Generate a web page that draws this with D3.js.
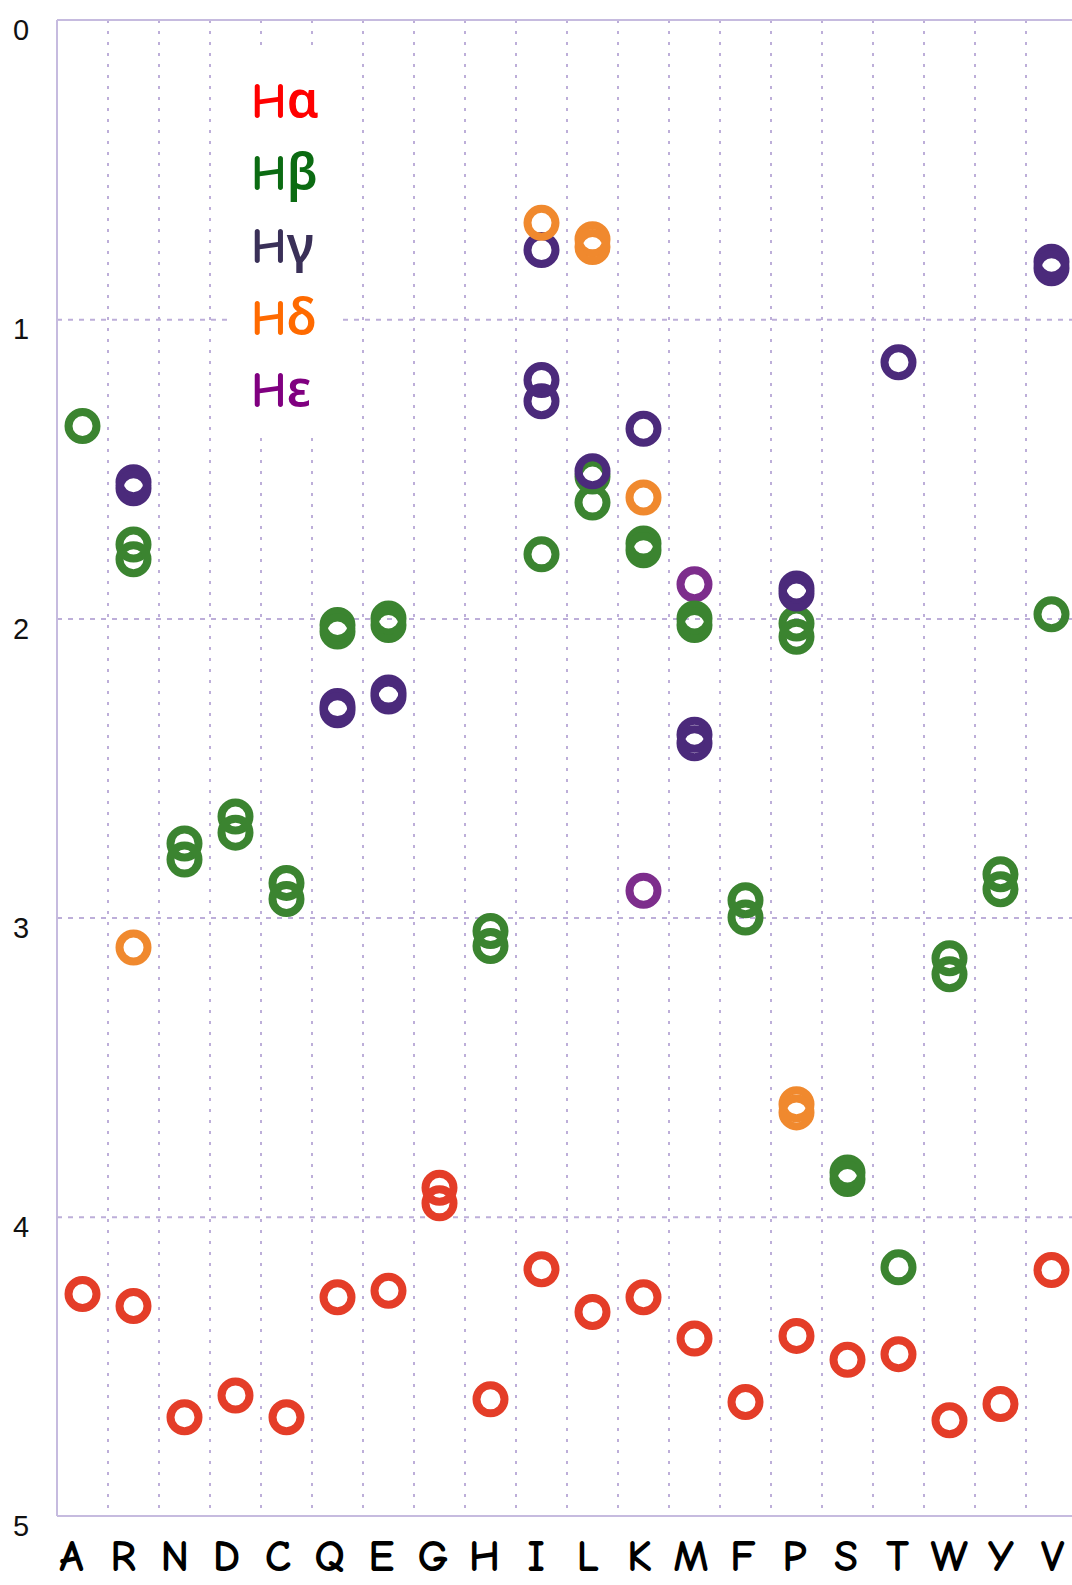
<!DOCTYPE html>
<html>
<head>
<meta charset="utf-8">
<script src="https://cdn.jsdelivr.net/npm/d3@7"></script>
<style>
  body { margin: 0; background: #fff; }
</style>
</head>
<body>
<div id="chart"></div>
<script>
// residues along x, one list of shifts (ppm) per residue for each proton type
const residues = ["A","R","N","D","C","Q","E","G","H","I","L","K","M","F","P","S","T","W","Y","V"];

const hAlpha = [[4.258],[4.298],[4.67],[4.597],[4.67],[4.269],[4.247],[3.903,3.955],[4.61],[4.175],
                [4.318],[4.269],[4.407],[4.619],[4.398],[4.478],[4.459],[4.68],[4.626],[4.178]];

const hBeta = [[1.357],[1.753,1.802],[2.752,2.806],[2.662,2.716],[2.884,2.938],[2.022,2.044],[2.0,2.022],[],
               [3.045,3.095],[1.786],[1.526,1.613],[1.75,1.772],[2.0,2.022],[2.942,3.0],[2.017,2.061],
               [3.852,3.874],[4.169],[3.136,3.189],[2.855,2.905],[1.986]];

const hGamma = [[],[1.545,1.565],[],[],[],[2.293,2.307],[2.248,2.261],[],[],[0.769,1.203,1.274],
                [1.508],[1.366],[2.389,2.417],[],[1.9,1.917],[],[1.144],[],[],[0.808,0.83]];

const hDelta = [[],[3.10],[],[],[],[],[],[],[],[0.678],[0.733,0.759],[1.596],[],[],[3.624,3.651],[],[],[],[],[]];

const hEpsilon = [[],[],[],[],[],[],[],[],[],[],[],[2.91],[1.886],[],[],[],[],[],[],[]];

const legendLabels = ["Hα","Hβ","Hγ","Hδ","Hε"];
const yTicks = [0, 1, 2, 3, 4, 5];

document.addEventListener("DOMContentLoaded", function() {
    const width = 1072, height = 1585;
    const left = 57, top = 20, bottom = 1516, bandW = 51;
    const gridColor = "#bdaed9";
    const handFont = "'Comic Sans MS', 'Comic Neue', 'Noto Sans', sans-serif";

    const svg = d3.select("#chart").append("svg")
        .attr("width", width)
        .attr("height", height);

    const x = d3.scaleBand()
        .domain(residues)
        .range([left, left + bandW * residues.length]);

    const y = d3.scaleLinear()
        .domain([0, 5])
        .range([top, bottom]);

    // the letters under the plot are spaced a little differently from the columns
    const xLabel = d3.scalePoint()
        .domain(residues)
        .range([71, 1052]);

    // vertical dotted grid between residues
    svg.selectAll("line.vgrid")
        .data(residues.slice(1))
        .enter()
        .append("line")
        .attr("class", "vgrid")
        .attr("x1", d => x(d))
        .attr("x2", d => x(d))
        .attr("y1", top)
        .attr("y2", bottom)
        .attr("stroke", gridColor)
        .attr("stroke-width", 2)
        .attr("stroke-dasharray", "3,8");

    // horizontal dashed grid
    const yGrid = svg.append("g")
        .attr("transform", `translate(${left},0)`)
        .call(d3.axisLeft(y).tickValues([1, 2, 3, 4]).tickSize(-(width - left)).tickFormat(""));
    yGrid.select(".domain").remove();
    yGrid.selectAll("line")
        .attr("stroke", gridColor)
        .attr("stroke-width", 2)
        .attr("stroke-dasharray", "5,6");

    // frame: left, top, bottom
    svg.append("line")
        .attr("x1", left).attr("x2", left)
        .attr("y1", top).attr("y2", bottom)
        .attr("stroke", "#c6bbdf").attr("stroke-width", 2);
    svg.append("line")
        .attr("x1", left).attr("x2", width)
        .attr("y1", top).attr("y2", top)
        .attr("stroke", "#c6bbdf").attr("stroke-width", 2);
    svg.append("line")
        .attr("x1", left).attr("x2", width)
        .attr("y1", bottom).attr("y2", bottom)
        .attr("stroke", "#c6bbdf").attr("stroke-width", 2);

    // y tick labels
    const yAxis = svg.append("g")
        .attr("transform", "translate(21,0)")
        .call(d3.axisLeft(y).tickValues(yTicks).tickSize(0).tickFormat(d3.format("d")));
    yAxis.select(".domain").remove();
    yAxis.selectAll("text")
        .attr("x", 0)
        .attr("dy", "0.68em")
        .attr("text-anchor", "middle")
        .attr("fill", "#111")
        .style("font-family", "'Liberation Sans', Arial, sans-serif")
        .style("font-size", "29px");

    // x letters
    const xAxis = svg.append("g")
        .attr("transform", "translate(0,1571)")
        .call(d3.axisBottom(xLabel).tickSize(0));
    xAxis.select(".domain").remove();
    xAxis.selectAll("text")
        .attr("y", 0)
        .attr("dy", 0)
        .attr("fill", "#000")
        .style("font-family", handFont)
        .style("font-weight", "bold")
        .style("font-size", "44px");

    // legend box (white, hides the grid)
    svg.append("rect")
        .attr("x", 227).attr("y", 53)
        .attr("width", 110).attr("height", 384)
        .attr("fill", "#fff");

    const legendColors = ["#ff0000", "#0b6b12", "#3a3058", "#ff6a00", "#800080"];
    svg.selectAll("text.legend")
        .data(legendLabels)
        .enter()
        .append("text")
        .attr("class", "legend")
        .attr("x", 251)
        .attr("y", (d, i) => 118 + i * 72.3)
        .attr("fill", (d, i) => legendColors[i])
        .style("font-family", handFont)
        .style("font-weight", "600")
        .style("font-size", "50px")
        .text(d => d);

    // points, drawn Hε first so the others sit on top
    const series = [
        { values: hEpsilon, color: "#7d2d8c" },
        { values: hAlpha,   color: "#e43d28" },
        { values: hBeta,    color: "#3b8430" },
        { values: hGamma,   color: "#4b2a7b" },
        { values: hDelta,   color: "#f0892e" }
    ];

    const points = [];
    series.forEach(s => {
        s.values.forEach((list, i) => {
            list.forEach(v => points.push({ res: residues[i], v: v, color: s.color }));
        });
    });

    svg.selectAll("circle.pt")
        .data(points)
        .enter()
        .append("circle")
        .attr("class", "pt")
        .attr("cx", d => x(d.res) + x.bandwidth() / 2)
        .attr("cy", d => y(d.v))
        .attr("r", 14)
        .attr("fill", "none")
        .attr("stroke", d => d.color)
        .attr("stroke-width", 8);
});
</script>
</body>
</html>
